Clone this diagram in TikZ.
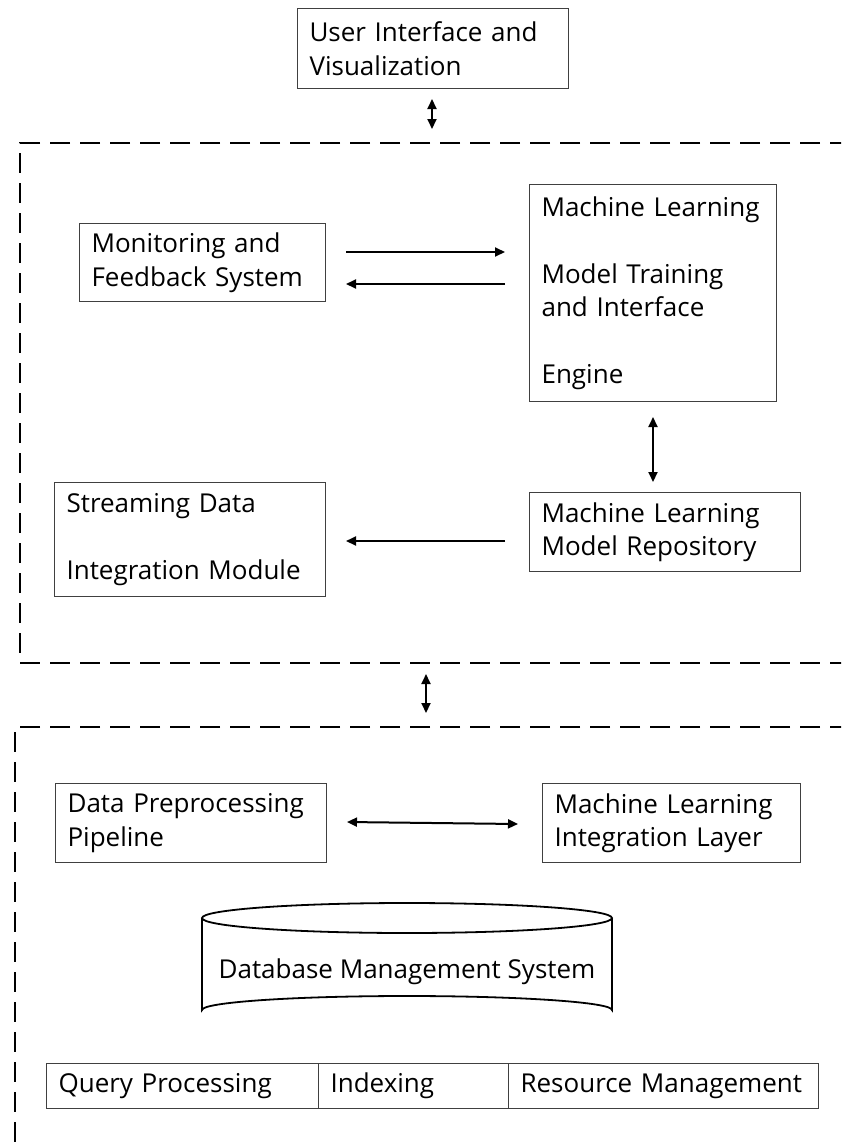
\documentclass[tikz,border=0pt]{standalone}
\usepackage{fontspec}
\setmainfont{Open Sans}
\usetikzlibrary{arrows.meta}
\begin{document}
\begin{tikzpicture}[x=1pt,y=-1pt,
  box/.style={draw=black!75,line width=1.1pt,rectangle,inner xsep=12pt,inner ysep=0pt,
    align=left,font=\fontsize{26}{33.5}\selectfont,anchor=north west},
  cell/.style={box,minimum height=45pt},
  arr/.style={line width=2pt,-{Triangle[length=10pt,width=9pt]}},
  darr/.style={line width=2pt,{Triangle[length=10pt,width=9pt]}-{Triangle[length=10pt,width=9pt]}},
  frame/.style={line width=2.8pt,dash pattern=on 20pt off 10pt},
  cyl/.style={line width=1.8pt,black}]
\clip (0,0) rectangle (841,1146);
\fill[white] (0,0) rectangle (841,1146);

% dashed group frames
\draw[frame] (880,143) -- (20,143) -- (20,663) -- (880,663);
\draw[frame] (880,727) -- (15,727) -- (15,1180);

% boxes
\node[box,text width=247pt,minimum height=80pt] (ui) at (297,8) {User Interface and\\Visualization};
\node[box,text width=222pt,minimum height=78pt] (mon) at (79,223) {Monitoring and\\Feedback System};
\node[box,text width=223pt,minimum height=217pt] (eng) at (529,184) {Machine Learning\\[33.5pt]Model Training\\and Interface\\[33.5pt]Engine};
\node[box,text width=247pt,minimum height=79pt] (repo) at (529,492) {Machine Learning\\Model Repository};
\node[box,text width=247pt,minimum height=114pt] (stream) at (54,482) {Streaming Data\\[33.5pt]Integration Module};
\node[box,text width=247pt,minimum height=79pt] (dpp) at (55,783) {Data Preprocessing\\Pipeline};
\node[box,text width=234pt,minimum height=79pt] (mli) at (542,783) {Machine Learning\\Integration Layer};

% database cylinder
\draw[cyl] (407,918) ellipse [x radius=205, y radius=15];
\draw[cyl] (202,918) -- (202,1010) arc [start angle=180, end angle=360, x radius=205, y radius=14] -- (612,918);
\node[font=\fontsize{26}{33.5}\selectfont] (dbms) at (407,972) {Database Management System};

% table row
\node[cell,text width=248pt] (qp) at (46,1063) {Query Processing};
\node[cell,text width=166pt] (idx) at (318,1063) {Indexing};
\node[cell,text width=286pt] (rm) at (508,1063) {Resource Management};

% connector end points
\coordinate (u1) at (432,99);
\coordinate (u2) at (432,129);
\coordinate (m1) at (346,252);
\coordinate (e1) at (505,252);
\coordinate (e2) at (505,284);
\coordinate (m2) at (346,284);
\coordinate (v1) at (653,417);
\coordinate (v2) at (653,482);
\coordinate (r1) at (505,541);
\coordinate (s1) at (346,541);
\coordinate (g1) at (426,674);
\coordinate (g2) at (426,713);
\coordinate (d1) at (347,822);
\coordinate (d2) at (518,824);

% connectors
\draw[darr] (u1) -- (u2);
\draw[arr] (m1) -- (e1);
\draw[arr] (e2) -- (m2);
\draw[darr] (v1) -- (v2);
\draw[arr] (r1) -- (s1);
\draw[darr] (g1) -- (g2);
\draw[darr] (d1) -- (d2);
\end{tikzpicture}
\end{document}
